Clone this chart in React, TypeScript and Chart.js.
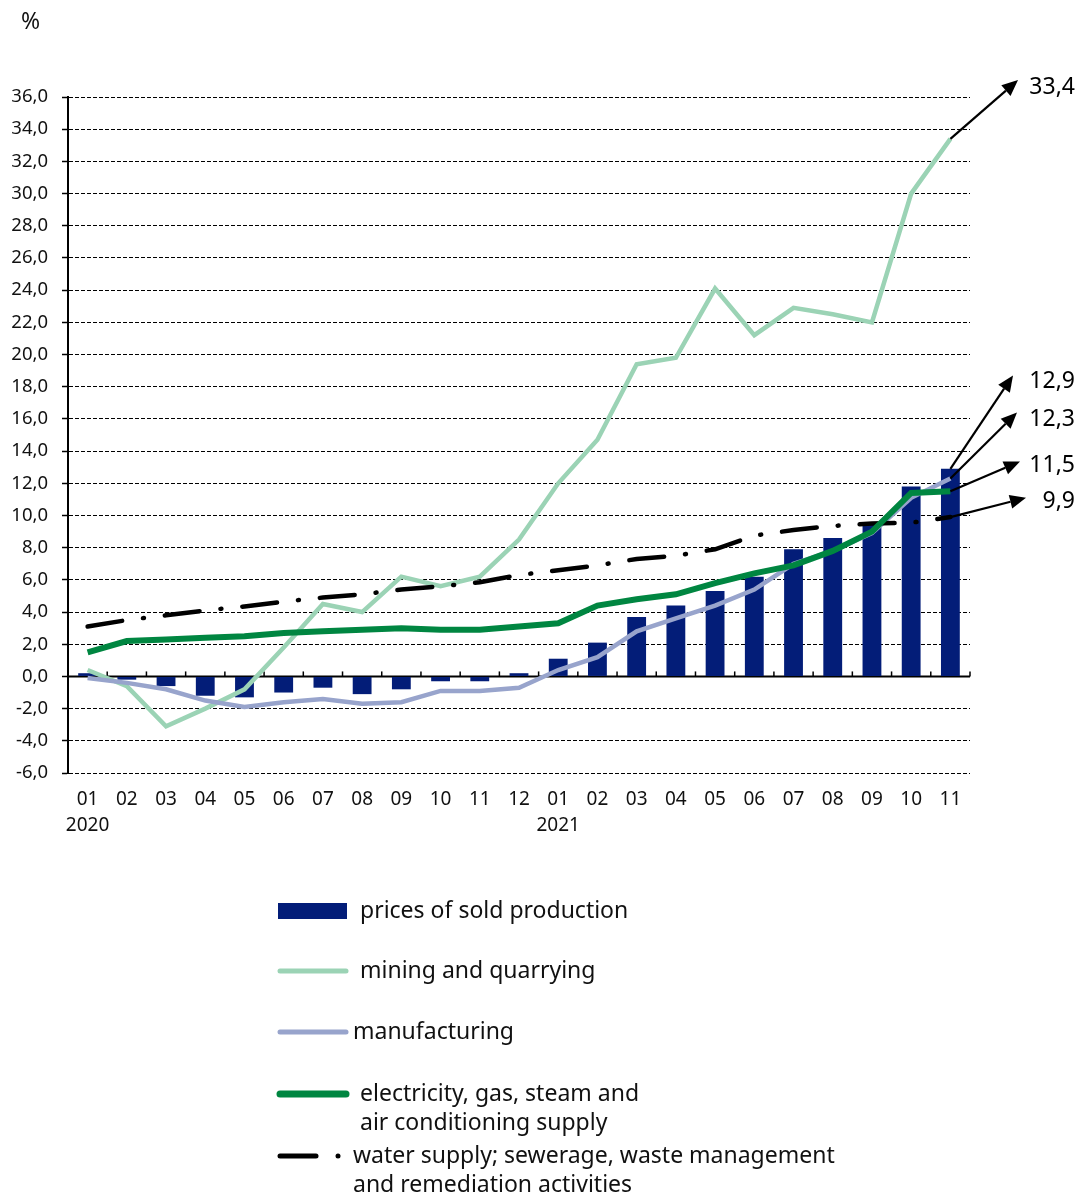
import React, { useEffect, useRef } from "react";
import { Chart, registerables } from "chart.js";

Chart.register(...registerables);

// ---------- DATA ----------
const months = [
  "01", "02", "03", "04", "05", "06", "07", "08", "09", "10", "11", "12",
  "01", "02", "03", "04", "05", "06", "07", "08", "09", "10", "11",
];
const years = [
  "2020", "", "", "", "", "", "", "", "", "", "", "",
  "2021", "", "", "", "", "", "", "", "", "", "",
];
const yTickValues = [-6, -4, -2, 0, 2, 4, 6, 8, 10, 12, 14, 16, 18, 20, 22, 24, 26, 28, 30, 32, 34, 36];

const pricesSold = [
  0.2, -0.2, -0.6, -1.2, -1.3, -1.0, -0.7, -1.1, -0.8, -0.3, -0.3, 0.2,
  1.1, 2.1, 3.7, 4.4, 5.3, 6.2, 7.9, 8.6, 9.6, 11.8, 12.9,
];
const mining = [
  0.4, -0.6, -3.1, -2.0, -0.8, 1.8, 4.5, 4.0, 6.2, 5.6, 6.2, 8.5,
  12.0, 14.7, 19.4, 19.8, 24.1, 21.2, 22.9, 22.5, 22.0, 30.0, 33.4,
];
const manufacturing = [
  -0.1, -0.4, -0.8, -1.5, -1.9, -1.6, -1.4, -1.7, -1.6, -0.9, -0.9, -0.7,
  0.4, 1.2, 2.8, 3.6, 4.4, 5.4, 7.0, 7.8, 8.9, 11.1, 12.3,
];
const electricity = [
  1.5, 2.2, 2.3, 2.4, 2.5, 2.7, 2.8, 2.9, 3.0, 2.9, 2.9, 3.1,
  3.3, 4.4, 4.8, 5.1, 5.8, 6.4, 6.9, 7.8, 9.0, 11.4, 11.5,
];
const water = [
  3.1, 3.5, 3.8, 4.1, 4.35, 4.65, 4.9, 5.1, 5.4, 5.6, 5.85, 6.3,
  6.6, 6.9, 7.3, 7.5, 7.9, 8.75, 9.1, 9.35, 9.5, 9.55, 9.9,
];

const seriesNames = [
  ["prices of sold production"],
  ["mining and quarrying"],
  ["manufacturing"],
  ["electricity, gas, steam and", "air conditioning supply"],
  ["water supply; sewerage, waste management", "and remediation activities"],
];

// ---------- STYLE ----------
const FONT = '"Noto Sans", "DejaVu Sans", sans-serif';
const NAVY = "#031d78";
const MINT = "#9bd3b5";
const LILAC = "#98a4cc";
const GREEN = "#008641";
const BLACK = "#000000";
const WATER_DASH = [35, 21, 1, 21];

const fmt = (v: number) => v.toFixed(1).replace(".", ",");

// annotation arrows: dataset index, tip offset from plot right (px), tip level (axis value), label level (axis value)
const arrowSpecs = [
  { ds: 1, dx: 48, tip: 37.05, text: 36.6 },
  { ds: 0, dx: 43, tip: 18.7, text: 18.3 },
  { ds: 2, dx: 47, tip: 16.4, text: 15.95 },
  { ds: 3, dx: 50, tip: 13.35, text: 13.1 },
  { ds: 4, dx: 56, tip: 11.1, text: 10.9 },
];

// legend rows: dataset index, first text line centre y, text x
const legendRows = [
  { ds: 0, y: 911, tx: 360 },
  { ds: 1, y: 971, tx: 360 },
  { ds: 2, y: 1032, tx: 353 },
  { ds: 3, y: 1094, tx: 360 },
  { ds: 4, y: 1156, tx: 353 },
];

function drawArrow(ctx: CanvasRenderingContext2D, x1: number, y1: number, x2: number, y2: number) {
  const ang = Math.atan2(y2 - y1, x2 - x1);
  const len = 16;
  const hw = 7;
  const bx = x2 - len * Math.cos(ang);
  const by = y2 - len * Math.sin(ang);
  ctx.beginPath();
  ctx.moveTo(x1, y1);
  ctx.lineTo(bx, by);
  ctx.stroke();
  ctx.beginPath();
  ctx.moveTo(x2, y2);
  ctx.lineTo(bx + hw * Math.sin(ang), by - hw * Math.cos(ang));
  ctx.lineTo(bx - hw * Math.sin(ang), by + hw * Math.cos(ang));
  ctx.closePath();
  ctx.fill();
}

const customPlugin = {
  id: "customDecor",
  beforeDatasetsDraw(chart: any) {
    const { ctx, chartArea, scales } = chart;
    const x = scales.x;
    const y = scales.y;
    const y0 = y.getPixelForValue(0);
    ctx.save();
    ctx.strokeStyle = BLACK;
    ctx.lineWidth = 2;
    ctx.beginPath();
    ctx.moveTo(chartArea.left, y0);
    ctx.lineTo(chartArea.right, y0);
    ctx.stroke();
    const step = x.getPixelForValue(1) - x.getPixelForValue(0);
    ctx.lineWidth = 1.5;
    for (let i = 0; i < months.length; i++) {
      const px = x.getPixelForValue(i) + step / 2;
      ctx.beginPath();
      ctx.moveTo(px, y0);
      ctx.lineTo(px, y0 - 5);
      ctx.stroke();
    }
    ctx.restore();
  },
  afterDraw(chart: any) {
    const { ctx, chartArea, scales } = chart;
    const x = scales.x;
    const y = scales.y;
    const last = months.length - 1;
    const dsets = chart.data.datasets;
    ctx.save();

    // "%" unit
    ctx.fillStyle = "#111";
    ctx.font = `23px ${FONT}`;
    ctx.textAlign = "left";
    ctx.textBaseline = "middle";
    ctx.fillText("%", 21, 22);

    // arrows + value labels
    ctx.strokeStyle = BLACK;
    ctx.fillStyle = BLACK;
    ctx.lineWidth = 2.2;
    for (const a of arrowSpecs) {
      const v = dsets[a.ds].data[last] as number;
      const sx = x.getPixelForValue(last);
      const sy = y.getPixelForValue(v);
      const tx = chartArea.right + a.dx;
      const ty = y.getPixelForValue(a.tip);
      drawArrow(ctx, sx, sy, tx, ty);
      ctx.font = `23px ${FONT}`;
      ctx.textAlign = "right";
      ctx.textBaseline = "middle";
      ctx.fillText(fmt(v), chartArea.right + 105, y.getPixelForValue(a.text));
    }

    // legend
    const sx1 = 278;
    const sx2 = 347;
    for (const r of legendRows) {
      const d = dsets[r.ds];
      ctx.save();
      if (r.ds === 0) {
        ctx.fillStyle = d.backgroundColor;
        ctx.fillRect(sx1, r.y - 8, sx2 - sx1, 16);
      } else if (r.ds === 4) {
        ctx.strokeStyle = d.borderColor;
        ctx.lineWidth = 5;
        ctx.lineCap = "round";
        ctx.beginPath();
        ctx.moveTo(sx1 + 2, r.y);
        ctx.lineTo(316, r.y);
        ctx.stroke();
        ctx.fillStyle = d.borderColor;
        ctx.beginPath();
        ctx.arc(338, r.y, 2.5, 0, Math.PI * 2);
        ctx.fill();
      } else {
        ctx.strokeStyle = d.borderColor;
        ctx.lineWidth = r.ds === 3 ? 7 : 5;
        ctx.lineCap = "round";
        ctx.beginPath();
        ctx.moveTo(sx1 + 2, r.y);
        ctx.lineTo(sx2 - 1, r.y);
        ctx.stroke();
      }
      ctx.restore();
      ctx.fillStyle = "#111";
      ctx.font = `23px ${FONT}`;
      ctx.textAlign = "left";
      ctx.textBaseline = "middle";
      seriesNames[r.ds].forEach((line, k) => {
        ctx.fillText(line, r.tx, r.y + k * 29);
      });
    }
    ctx.restore();
  },
};

export default function App() {
  const ref = useRef<HTMLCanvasElement>(null);
  useEffect(() => {
    document.body.style.margin = "0";
    const labels = months.map((m, i) => (years[i] ? [m, years[i]] : m));
    const chart = new Chart(ref.current as HTMLCanvasElement, {
      type: "bar",
      data: {
        labels,
        datasets: [
          {
            type: "bar",
            label: seriesNames[0].join(" "),
            data: pricesSold,
            backgroundColor: NAVY,
            barPercentage: 0.48,
            categoryPercentage: 1,
            order: 10,
          },
          {
            type: "line",
            label: seriesNames[1].join(" "),
            data: mining,
            borderColor: MINT,
            borderWidth: 4.5,
            pointRadius: 0,
            tension: 0,
            fill: false,
            order: 4,
          },
          {
            type: "line",
            label: seriesNames[2].join(" "),
            data: manufacturing,
            borderColor: LILAC,
            borderWidth: 4.5,
            pointRadius: 0,
            tension: 0,
            fill: false,
            order: 3,
          },
          {
            type: "line",
            label: seriesNames[3].join(" "),
            data: electricity,
            borderColor: GREEN,
            borderWidth: 6,
            pointRadius: 0,
            tension: 0,
            fill: false,
            order: 1,
          },
          {
            type: "line",
            label: seriesNames[4].join(" "),
            data: water,
            borderColor: BLACK,
            borderWidth: 4.5,
            borderDash: WATER_DASH,
            borderCapStyle: "round",
            pointRadius: 0,
            tension: 0,
            fill: false,
            order: 2,
          },
        ] as any,
      },
      options: {
        responsive: false,
        animation: false,
        devicePixelRatio: 1,
        layout: { padding: { left: 0, top: 97, right: 110, bottom: 355 } },
        plugins: { legend: { display: false }, tooltip: { enabled: false } },
        scales: {
          x: {
            type: "category",
            offset: true,
            grid: { display: false, drawTicks: false },
            border: { display: false },
            ticks: {
              color: "#111",
              font: { family: FONT, size: 19, lineHeight: 1.37 },
              padding: 14,
              maxRotation: 0,
              autoSkip: false,
            },
            afterFit: (s: any) => {
              s.height = 70;
            },
          },
          y: {
            min: -6,
            max: 36,
            afterBuildTicks: (s: any) => {
              s.ticks = yTickValues.map((v) => ({ value: v }));
            },
            grid: {
              color: BLACK,
              lineWidth: 1,
              tickLength: 6,
              tickColor: BLACK,
              tickWidth: 1.5,
              tickBorderDash: [],
            },
            border: { display: true, color: BLACK, width: 2, dash: [4, 2] },
            ticks: {
              color: "#111",
              font: { family: FONT, size: 18.5 },
              padding: 14,
              callback: (v: any) => fmt(Number(v)),
            },
            afterFit: (s: any) => {
              s.width = 68;
            },
          },
        },
      },
      plugins: [customPlugin],
    } as any);
    return () => chart.destroy();
  }, []);
  return (
    <div style={{ position: "relative", width: 1080, height: 1198 }}>
      <canvas ref={ref} width={1080} height={1198} style={{ display: "block" }} />
    </div>
  );
}
